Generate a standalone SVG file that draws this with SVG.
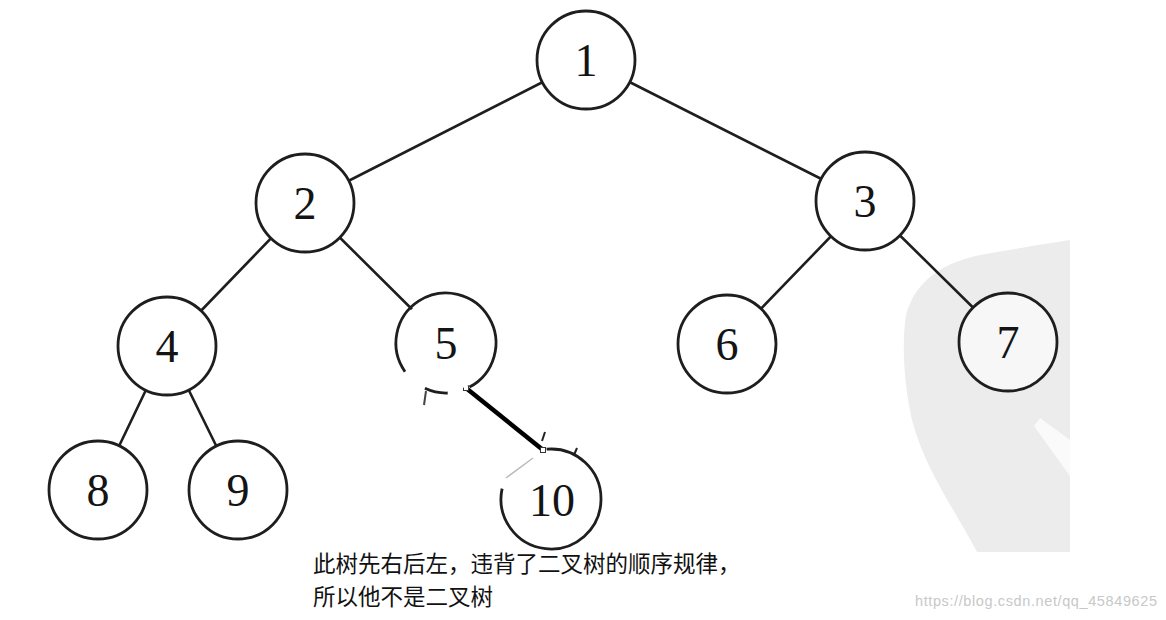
<svg xmlns="http://www.w3.org/2000/svg" width="1166" height="620" viewBox="0 0 1166 620">
<style>
.edge{stroke:#1e1e1e;stroke-width:2.6;fill:none;stroke-linecap:round}
.node{fill:#fff;stroke:#1e1e1e;stroke-width:2.8}
.arc{fill:none;stroke:#1e1e1e;stroke-width:2.8}
.num{font-family:"Liberation Serif","Times New Roman",serif;font-size:46px;fill:#141414;text-anchor:middle}
.cap{font-family:"Noto Sans CJK SC","Noto Sans",sans-serif;font-size:22.5px;fill:#111}
.handle{fill:#fff;stroke:#333;stroke-width:1}
</style>
<rect width="1166" height="620" fill="#fff"/>
<path d="M1070,240 L1070,552 L977,552 C955,510 925,470 912,420 C903,380 902,340 906,315 C915,280 945,262 980,255 C1020,248 1050,243 1070,240 Z" fill="#ececec"/>
<polygon points="1040,418 1070,440 1070,476 1034,426" fill="#fff" opacity="0.75"/>
<g id="connectors">
<line class="edge" x1="586" y1="60" x2="305" y2="203"/>
<line class="edge" x1="586" y1="60" x2="865" y2="201"/>
<line class="edge" x1="305" y1="203" x2="167" y2="346"/>
<line class="edge" x1="305" y1="203" x2="446" y2="343"/>
<line class="edge" x1="865" y1="201" x2="727" y2="344"/>
<line class="edge" x1="865" y1="201" x2="1008" y2="342"/>
<line class="edge" x1="167" y1="346" x2="98" y2="490"/>
<line class="edge" x1="167" y1="346" x2="238" y2="490"/>
<line x1="426" y1="391" x2="424" y2="405" stroke="#444" stroke-width="2"/>
<line x1="545" y1="432" x2="542" y2="441" stroke="#222" stroke-width="2"/>
<line x1="574" y1="455" x2="577" y2="448" stroke="#222" stroke-width="2"/>
<line x1="506" y1="478" x2="533" y2="458" stroke="#bbb" stroke-width="1.5"/>
<line x1="466" y1="388" x2="543" y2="450" stroke="#000" stroke-width="4.5"/>
<rect class="handle" x="463.5" y="385.5" width="5" height="5"/>
<rect class="handle" x="540.5" y="447.5" width="5" height="5"/>
</g>
<g id="node1"><circle class="node" cx="586" cy="60" r="49"/><text class="num" x="586" y="76">1</text></g>
<g id="node2"><circle class="node" cx="305" cy="203" r="49"/><text class="num" x="305" y="219">2</text></g>
<g id="node3"><circle class="node" cx="865" cy="201" r="49"/><text class="num" x="865" y="217">3</text></g>
<g id="node4"><circle class="node" cx="167" cy="346" r="49"/><text class="num" x="167" y="362">4</text></g>
<g id="node5">
<circle cx="446" cy="343" r="48" fill="#fff"/>
<path class="arc" d="M447.7,393 A50,50 0 0 1 424.9,388.3"/>
<path class="arc" d="M405,371.7 A50,50 0 1 1 469.5,387.1"/>
<text class="num" x="446" y="359">5</text>
</g>
<g id="node6"><circle class="node" cx="727" cy="344" r="49"/><text class="num" x="727" y="360">6</text></g>
<g id="node7"><circle class="node" cx="1008" cy="342" r="49" style="fill:#f7f7f7"/><text class="num" x="1008" y="358">7</text></g>
<g id="node8"><circle class="node" cx="98" cy="490" r="49"/><text class="num" x="98" y="506">8</text></g>
<g id="node9"><circle class="node" cx="238" cy="490" r="49"/><text class="num" x="238" y="506">9</text></g>
<g id="node10">
<path class="arc" d="M546.6,449.2 A50,50 0 1 1 502.1,488.6"/>
<text class="num" x="552" y="516">10</text>
</g>
<text class="cap" x="313" y="572">此树先右后左，违背了二叉树的顺序规律，</text>
<text class="cap" x="313" y="605">所以他不是二叉树</text>
<text x="915" y="606" font-family="Liberation Sans, Arial, sans-serif" font-size="14.5" fill="#c8c8c8" textLength="242">https://blog.csdn.net/qq_45849625</text>
</svg>
